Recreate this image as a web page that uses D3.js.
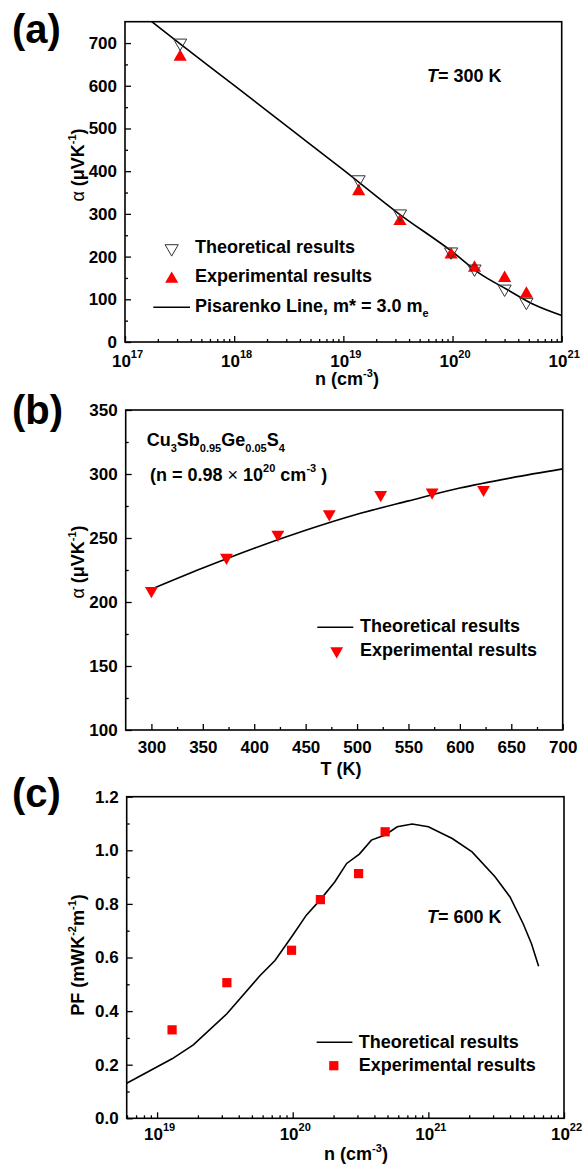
<!DOCTYPE html>
<html>
<head>
<meta charset="utf-8">
<script src="https://cdn.jsdelivr.net/npm/d3@7/dist/d3.min.js"></script>
<style>
  body { margin: 0; background: #fff; }
  svg text { font-family: "Liberation Sans", Arial, sans-serif; font-weight: bold; fill: #000; }
</style>
</head>
<body>
<div id="chart"></div>
<script>
// ---- panel (a): Seebeck vs carrier concentration, T = 300 K
var nA = [3.2e17, 1.38e19, 3.3e19, 9.7e19, 1.59e20, 3.0e20, 4.75e20];
var alphaA_theory = [698, 378, 298, 209, 169, 122, 91];
var alphaA_exp = [670, 355, 285, 207, 176, 152, 115];
var nA_line = [1.5e17, 3.2e17, 1e18, 3.16e18, 1e19, 3.16e19, 1e20, 1.78e20, 3.16e20, 5.62e20, 1e21];
var alphaA_line = [764, 698, 601, 502, 403, 302, 211, 160, 123, 87, 62];
var ticksA_y = [0, 100, 200, 300, 400, 500, 600, 700];
var decadesA = [17, 18, 19, 20, 21];

// ---- panel (b): Seebeck vs temperature
var tB_exp = [300, 373, 423, 473, 523, 573, 623];
var alphaB_exp = [208, 234, 252, 268, 283, 285, 287];
var tB_line = [300, 350, 400, 450, 500, 550, 600, 650, 700];
var alphaB_line = [210, 226.5, 242, 256, 268.5, 279, 289, 297, 304];
var ticksB_x = [300, 350, 400, 450, 500, 550, 600, 650, 700];
var ticksB_y = [100, 150, 200, 250, 300, 350];

// ---- panel (c): power factor vs carrier concentration, T = 600 K
var nC_exp = [1.29e19, 3.27e19, 9.8e19, 1.6e20, 3.06e20, 4.8e20];
var pfC_exp = [0.330, 0.506, 0.627, 0.816, 0.913, 1.069];
var nC_line = [5.97e18, 1.29e19, 1.85e19, 3.27e19, 5.75e19, 7.4e19, 1.0e20, 1.26e20, 1.6e20, 2.04e20,
               2.5e20, 3.1e20, 3.8e20, 4.8e20, 5.9e20, 7.6e20, 1e21, 1.5e21, 2.1e21, 3.1e21,
               4.0e21, 5.0e21, 5.75e21, 6.5e21];
var pfC_line = [0.131, 0.222, 0.274, 0.39, 0.533, 0.589, 0.683, 0.758, 0.816, 0.882,
                0.951, 0.986, 1.038, 1.057, 1.088, 1.098, 1.088, 1.044, 0.994, 0.901,
                0.826, 0.726, 0.652, 0.567];
var ticksC_y = [0, 0.2, 0.4, 0.6, 0.8, 1.0, 1.2];
var decadesC = [19, 20, 21, 22];

var RED = "#ff0000";

var svg = d3.select("#chart").append("svg")
  .attr("width", 582)
  .attr("height", 1169);

function logMinor(x) {
  return x.ticks().filter(function(v) {
    var e = Math.log10(v);
    return Math.abs(e - Math.round(e)) > 1e-6;
  });
}

function frame(g, box) {
  g.append("rect")
    .attr("x", box.left).attr("y", box.top)
    .attr("width", box.right - box.left).attr("height", box.bottom - box.top)
    .attr("fill", "none").attr("stroke", "#000").attr("stroke-width", 1.6);
}

function styleAxis(sel) {
  sel.select(".domain").remove();
  sel.selectAll("line").attr("stroke", "#000").attr("stroke-width", 1.3);
  sel.selectAll("text").attr("font-size", 17).attr("fill", "#000")
    .attr("font-family", "Liberation Sans, Arial, sans-serif").attr("font-weight", "bold");
}

function yAxis(g, y, box, majors, minors, fmt) {
  g.append("g").attr("transform", "translate(" + box.left + ",0)")
    .call(d3.axisLeft(y).tickValues(minors).tickSize(-3).tickSizeOuter(0).tickFormat(""))
    .call(styleAxis);
  g.append("g").attr("transform", "translate(" + box.left + ",0)")
    .call(d3.axisLeft(y).tickValues(majors).tickSize(-6).tickSizeOuter(0).tickPadding(8).tickFormat(fmt))
    .call(styleAxis);
}

function logXAxis(g, x, box, decades, base) {
  g.append("g").attr("transform", "translate(0," + box.bottom + ")")
    .call(d3.axisBottom(x).tickValues(logMinor(x)).tickSize(-3).tickSizeOuter(0).tickFormat(""))
    .call(styleAxis);
  var ax = g.append("g").attr("transform", "translate(0," + box.bottom + ")")
    .call(d3.axisBottom(x).tickValues(decades.map(function(e) { return Math.pow(10, e); }))
      .tickSize(-6).tickSizeOuter(0).tickFormat(""))
    .call(styleAxis);
  ax.selectAll(".tick").append("text")
    .attr("text-anchor", "middle").attr("y", base).attr("x", 2)
    .attr("font-size", 17)
    .each(function(d) {
      var t = d3.select(this);
      t.append("tspan").text("10");
      t.append("tspan").attr("dy", -9).attr("font-size", 11).text(Math.round(Math.log10(d)));
    });
}

function legendLine(g, x1, x2, y) {
  g.append("line").attr("x1", x1).attr("x2", x2).attr("y1", y).attr("y2", y)
    .attr("stroke", "#000").attr("stroke-width", 1.6);
}

function label(g, x, y, txt, size) {
  return g.append("text").attr("x", x).attr("y", y).attr("font-size", size || 18).text(txt);
}

// ================= (a) =================
(function() {
  var box = {left: 125, right: 561.7, top: 21.7, bottom: 342};
  var g = svg.append("g");
  var x = d3.scaleLog().domain([1e17, 1e21]).range([box.left, box.right]);
  var y = d3.scaleLinear().domain([0, 750]).range([box.bottom, box.top]);

  g.append("clipPath").attr("id", "clipA").append("rect")
    .attr("x", box.left).attr("y", box.top)
    .attr("width", box.right - box.left).attr("height", box.bottom - box.top);

  var line = d3.line()
    .x(function(d) { return x(d[0]); })
    .y(function(d) { return y(d[1]); })
    .curve(d3.curveMonotoneX);
  g.append("path")
    .datum(d3.zip(nA_line, alphaA_line))
    .attr("d", line).attr("clip-path", "url(#clipA)")
    .attr("fill", "none").attr("stroke", "#000").attr("stroke-width", 1.6);

  var up = d3.symbol().type(d3.symbolTriangle).size(75);
  g.selectAll(".exp").data(d3.zip(nA, alphaA_exp)).enter().append("path")
    .attr("class", "exp")
    .attr("d", up)
    .attr("transform", function(d) { return "translate(" + x(d[0]) + "," + (y(d[1]) + 1) + ")"; })
    .attr("fill", RED);
  g.selectAll(".th").data(d3.zip(nA, alphaA_theory)).enter().append("path")
    .attr("class", "th")
    .attr("d", up)
    .attr("transform", function(d) { return "translate(" + x(d[0]) + "," + (y(d[1]) - 1) + ") rotate(180)"; })
    .attr("fill", "none").attr("stroke", "#333").attr("stroke-width", 1);

  frame(g, box);
  var minorY = d3.range(50, 750, 100);
  yAxis(g, y, box, ticksA_y, minorY, d3.format("d"));
  logXAxis(g, x, box, decadesA, 25);

  // axis titles
  var yt = g.append("text").attr("text-anchor", "middle").attr("font-size", 18)
    .attr("transform", "translate(84,165) rotate(-90)");
  yt.append("tspan").attr("font-weight", "normal").text("α");
  yt.append("tspan").text(" (μVK");
  yt.append("tspan").attr("dy", -8).attr("font-size", 11).text("-1");
  yt.append("tspan").attr("dy", 8).text(")");

  var xt = g.append("text").attr("text-anchor", "middle").attr("font-size", 18)
    .attr("x", 347).attr("y", 385);
  xt.append("tspan").text("n (cm");
  xt.append("tspan").attr("dy", -8).attr("font-size", 11).text("-3");
  xt.append("tspan").attr("dy", 8).text(")");

  var tt = g.append("text").attr("x", 427).attr("y", 82).attr("font-size", 18);
  tt.append("tspan").attr("font-style", "italic").text("T");
  tt.append("tspan").text("= 300 K");

  // legend
  g.append("path").attr("d", up)
    .attr("transform", "translate(171.7,248.5) rotate(180)")
    .attr("fill", "none").attr("stroke", "#333").attr("stroke-width", 1);
  label(g, 195, 253.3, "Theoretical results");
  g.append("path").attr("d", up)
    .attr("transform", "translate(171.7,279)")
    .attr("fill", RED);
  label(g, 195, 282.3, "Experimental results");
  legendLine(g, 153.3, 190, 307.3);
  var pl = label(g, 195, 311.7, "Pisarenko Line, m* = 3.0 m");
  pl.append("tspan").attr("dy", 5).attr("font-size", 11).text("e");

  label(g, 12, 43, "(a)", 40);
})();

// ================= (b) =================
(function() {
  var box = {left: 125.7, right: 562.7, top: 410, bottom: 730};
  var g = svg.append("g");
  var x = d3.scaleLinear().domain([275, 700]).range([box.left, box.right]);
  var y = d3.scaleLinear().domain([100, 350]).range([box.bottom, box.top]);

  var line = d3.line()
    .x(function(d) { return x(d[0]); })
    .y(function(d) { return y(d[1]); })
    .curve(d3.curveMonotoneX);
  g.append("path")
    .datum(d3.zip(tB_line, alphaB_line))
    .attr("d", line)
    .attr("fill", "none").attr("stroke", "#000").attr("stroke-width", 1.6);

  var tri = d3.symbol().type(d3.symbolTriangle).size(72);
  g.selectAll(".exp").data(d3.zip(tB_exp, alphaB_exp)).enter().append("path")
    .attr("class", "exp")
    .attr("d", tri)
    .attr("transform", function(d) { return "translate(" + x(d[0]) + "," + (y(d[1]) - 1) + ") rotate(180)"; })
    .attr("fill", RED);

  frame(g, box);
  yAxis(g, y, box, ticksB_y, d3.range(125, 350, 50), d3.format("d"));

  g.append("g").attr("transform", "translate(0," + box.bottom + ")")
    .call(d3.axisBottom(x).tickValues(d3.range(325, 700, 50)).tickSize(-3).tickSizeOuter(0).tickFormat(""))
    .call(styleAxis);
  var ax = g.append("g").attr("transform", "translate(0," + box.bottom + ")")
    .call(d3.axisBottom(x).tickValues(ticksB_x).tickSize(-6).tickSizeOuter(0).tickPadding(11).tickFormat(d3.format("d")))
    .call(styleAxis);

  var yt = g.append("text").attr("text-anchor", "middle").attr("font-size", 18)
    .attr("transform", "translate(84,562) rotate(-90)");
  yt.append("tspan").attr("font-weight", "normal").text("α");
  yt.append("tspan").text(" (μVK");
  yt.append("tspan").attr("dy", -8).attr("font-size", 11).text("-1");
  yt.append("tspan").attr("dy", 8).text(")");

  g.append("text").attr("text-anchor", "middle").attr("font-size", 18)
    .attr("x", 341).attr("y", 775).text("T (K)");

  var f = g.append("text").attr("x", 146.7).attr("y", 446).attr("font-size", 18);
  f.append("tspan").text("Cu");
  f.append("tspan").attr("dy", 6).attr("font-size", 11).text("3");
  f.append("tspan").attr("dy", -6).text("Sb");
  f.append("tspan").attr("dy", 6).attr("font-size", 11).text("0.95");
  f.append("tspan").attr("dy", -6).text("Ge");
  f.append("tspan").attr("dy", 6).attr("font-size", 11).text("0.05");
  f.append("tspan").attr("dy", -6).text("S");
  f.append("tspan").attr("dy", 6).attr("font-size", 11).text("4");

  var c = g.append("text").attr("x", 150).attr("y", 481).attr("font-size", 18);
  c.append("tspan").text("(n = 0.98 ");
  c.append("tspan").attr("font-weight", "normal").text("×");
  c.append("tspan").text(" 10");
  c.append("tspan").attr("dy", -9).attr("font-size", 11).text("20");
  c.append("tspan").attr("dy", 9).text(" cm");
  c.append("tspan").attr("dy", -9).attr("font-size", 11).text("-3");
  c.append("tspan").attr("dy", 9).text(" )");

  legendLine(g, 317.3, 353.3, 627.3);
  label(g, 360, 631.7, "Theoretical results");
  g.append("path").attr("d", tri)
    .attr("transform", "translate(336.7,651) rotate(180)").attr("fill", RED);
  label(g, 360, 655.7, "Experimental results");

  label(g, 12, 424, "(b)", 40);
})();

// ================= (c) =================
(function() {
  var box = {left: 126.7, right: 564, top: 796.7, bottom: 1118.3};
  var g = svg.append("g");
  var x = d3.scaleLog().domain([5.97e18, 1e22]).range([box.left, box.right]);
  var y = d3.scaleLinear().domain([0, 1.2]).range([box.bottom, box.top]);

  var line = d3.line()
    .x(function(d) { return x(d[0]); })
    .y(function(d) { return y(d[1]); });
  g.append("path")
    .datum(d3.zip(nC_line, pfC_line))
    .attr("d", line)
    .attr("fill", "none").attr("stroke", "#000").attr("stroke-width", 1.6);

  var sq = d3.symbol().type(d3.symbolSquare).size(85);
  g.selectAll(".exp").data(d3.zip(nC_exp, pfC_exp)).enter().append("path")
    .attr("class", "exp")
    .attr("d", sq)
    .attr("transform", function(d) { return "translate(" + x(d[0]) + "," + y(d[1]) + ")"; })
    .attr("fill", RED);

  frame(g, box);
  yAxis(g, y, box, ticksC_y, d3.range(0.1, 1.2, 0.2), d3.format(".1f"));
  logXAxis(g, x, box, decadesC, 22);

  var yt = g.append("text").attr("text-anchor", "middle").attr("font-size", 18)
    .attr("transform", "translate(84,955) rotate(-90)");
  yt.append("tspan").text("PF (mWK");
  yt.append("tspan").attr("dy", -8).attr("font-size", 11).text("-2");
  yt.append("tspan").attr("dy", 8).text("m");
  yt.append("tspan").attr("dy", -8).attr("font-size", 11).text("-1");
  yt.append("tspan").attr("dy", 8).text(")");

  var xt = g.append("text").attr("text-anchor", "middle").attr("font-size", 18)
    .attr("x", 356).attr("y", 1160);
  xt.append("tspan").text("n (cm");
  xt.append("tspan").attr("dy", -8).attr("font-size", 11).text("-3");
  xt.append("tspan").attr("dy", 8).text(")");

  var tt = g.append("text").attr("x", 427).attr("y", 923).attr("font-size", 18);
  tt.append("tspan").attr("font-style", "italic").text("T");
  tt.append("tspan").text("= 600 K");

  legendLine(g, 316.7, 352.4, 1042.3);
  label(g, 358.7, 1047.7, "Theoretical results");
  g.append("path").attr("d", sq)
    .attr("transform", "translate(333.8,1065.7)").attr("fill", RED);
  label(g, 358.7, 1071, "Experimental results");

  label(g, 12, 807, "(c)", 40);
})();
</script>
</body>
</html>
